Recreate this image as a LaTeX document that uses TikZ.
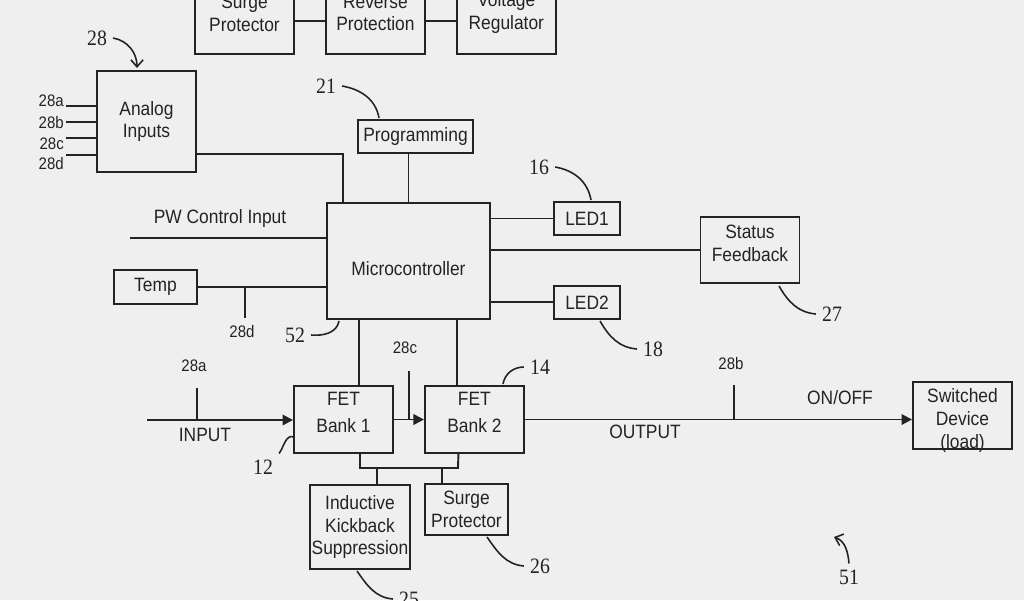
\documentclass[tikz,border=0pt]{standalone}
\usepackage{fontspec}
\setmainfont{Liberation Sans}[FakeStretch=0.9]
\newfontfamily\numfont{Liberation Serif}[FakeStretch=0.9]
\usetikzlibrary{arrows.meta, positioning}
\definecolor{paper}{RGB}{239,239,239}
\definecolor{ink}{RGB}{35,35,35}
\newcommand{\boxtext}[2][0pt]{\raisebox{#1}[0pt][0pt]{\begin{tabular}{@{}c@{}}#2\end{tabular}}}

\begin{document}
\begin{tikzpicture}[
    x=0.02cm, y=-0.02cm,
    every node/.style={font=\fontsize{11}{13}\selectfont, text=ink},
    box/.style={rectangle, draw=ink, line width=1.1pt, align=center,
                minimum width=1.98cm, minimum height=1.34cm, inner sep=1pt},
    sbox/.style={box, minimum height=0.66cm},
    wire/.style={draw=ink, line width=1.1pt},
    arr/.style={wire, -{Triangle[length=6pt, width=6pt]}},
    lead/.style={draw=ink, line width=0.9pt},
    ptr/.style={lead, -{Straight Barb[length=4pt, width=7pt]}},
    num/.style={font=\numfont\fontsize{12.5}{14}\selectfont},
    tag/.style={font=\fontsize{9.5}{11}\selectfont}
  ]
  \fill[paper] (0,0) rectangle (1024,600);
  \useasboundingbox (0,0) rectangle (1024,600);
  \clip (0,0) rectangle (1024,600);

  \node[box, minimum height=1.64cm] (surge) at (244.5,13) {Surge\\Protector};
  \node[box, minimum height=1.64cm, right=0.6cm of surge] (rev) {Reverse\\Protection};
  \node[box, minimum height=1.64cm, right=0.6cm of rev] (volt) {Voltage\\Regulator};

  \node[box, minimum height=2.02cm] (analog) at (146.5,121.5) {Analog\\Inputs};
  \node[sbox, minimum width=2.3cm] (prog) at (415.5,136.5) {Programming};
  \node[box, minimum width=3.26cm, minimum height=2.32cm] (mcu) at (408.5,261)
        {\raisebox{-8pt}[0pt][0pt]{Microcontroller}};
  \node[sbox, minimum width=1.66cm, minimum height=0.68cm] (temp) at (155.5,287) {Temp};
  \node[sbox, minimum width=1.32cm] (led1) at (587,218.5) {LED1};
  \node[sbox, minimum width=1.32cm, below=0.98cm of led1] (led2) {LED2};
  \node[box, minimum height=1.32cm] (status) at (750,250) {\boxtext{Status\\Feedback}};

  \node[box] (fet1) at (343.5,419.5) {\boxtext{FET\\[2.5pt]Bank 1}};
  \node[box, right=0.6cm of fet1] (fet2) {\boxtext{FET\\[2.5pt]Bank 2}};
  \node[box, minimum height=1.68cm] (kick) at (360,527)
        {Inductive\\Kickback\\Suppression};
  \node[box, minimum width=1.66cm, minimum height=1.02cm] (surgeb) at (466.5,509.5)
        {Surge\\Protector};
  \node[box] (load) at (962.5,415.5) {\boxtext[-6pt]{Switched\\Device\\(load)}};

  \node[tag, anchor=east] (in28a) at (70,101) {28a};
  \node[tag, anchor=east] (in28b) at (70,123) {28b};
  \node[tag, anchor=east] (in28c) at (70,144) {28c};
  \node[tag, anchor=east] (in28d) at (70,164) {28d};
  \coordinate (pin28a) at (66,106);
  \coordinate (pin28b) at (66,122);
  \coordinate (pin28c) at (66,138);
  \coordinate (pin28d) at (66,155);

  \node (pwlbl) at (220,218) {PW Control Input};
  \coordinate (pw) at (130,238);
  \node[tag] (l28d) at (242,332) {28d};
  \coordinate (t28d) at (245,318);
  \node[tag] (l28a) at (194,366) {28a};
  \coordinate (t28a) at (197,388);
  \node (linput) at (205,435) {INPUT};
  \coordinate (in) at (147,420);
  \node[tag] (l28c) at (405,348) {28c};
  \coordinate (t28c) at (409,371);
  \node[tag] (l28b) at (731,364) {28b};
  \coordinate (t28b) at (734,385);
  \node (loutput) at (645,432) {OUTPUT};
  \node (lonoff) at (840,398) {ON/OFF};
  \coordinate (busl) at (360,468);
  \coordinate (busr) at (458,468);

  \node[num] (n28) at (97,38) {28};
  \node[num] (n21) at (326,86) {21};
  \node[num] (n16) at (539,167) {16};
  \node[num] (n27) at (832,314) {27};
  \node[num] (n18) at (653,349) {18};
  \node[num] (n52) at (295,335) {52};
  \node[num] (n12) at (263,467) {12};
  \node[num] (n14) at (540,367) {14};
  \node[num] (n26) at (540,566) {26};
  \node[num] (n25) at (409,599) {25};
  \node[num] (n51) at (849,577) {51};
  \coordinate (p28) at (137,68);
  \coordinate (p21) at (379,118);
  \coordinate (p16) at (591,200);
  \coordinate (p27) at (779,286);
  \coordinate (p18) at (600,321);
  \coordinate (p52) at (339,321);
  \coordinate (p12) at (294,437);
  \coordinate (p14) at (503,384);
  \coordinate (p26) at (487,537);
  \coordinate (p25) at (357,571);
  \coordinate (p51) at (834,537);

  \draw[wire] ([yshift=-0.16cm]surge.east) -- ([yshift=-0.16cm]rev.west);
  \draw[wire] ([yshift=-0.16cm]rev.east) -- ([yshift=-0.16cm]volt.west);

  \draw[wire] (pin28a) -- (pin28a -| analog.west);
  \draw[wire] (pin28b) -- (pin28b -| analog.west);
  \draw[wire] (pin28c) -- (pin28c -| analog.west);
  \draw[wire] (pin28d) -- (pin28d -| analog.west);
  \draw[wire] ([yshift=-0.65cm]analog.east) -| ([xshift=-1.31cm]mcu.north);
  \draw[wire] (prog.south -| mcu.north) -- (mcu.north);
  \draw[wire] (pw) -- (pw -| mcu.west);
  \draw[wire] (temp) -- (temp -| mcu.west);
  \draw[wire] (t28d) -- (t28d |- temp.east);
  \draw[wire] (led1) -- (led1 -| mcu.east);
  \draw[wire] (status) -- (status -| mcu.east);
  \draw[wire] (led2) -- (led2 -| mcu.east);
  \draw[wire] ([xshift=0.31cm]fet1.north) -- ([xshift=0.31cm]fet1.north |- mcu.south);
  \draw[wire] ([xshift=-0.34cm]fet2.north) -- ([xshift=-0.34cm]fet2.north |- mcu.south);

  \draw[arr] (in) -- (in -| fet1.west);
  \draw[wire] (t28a) -- (t28a |- in);
  \draw[arr] (fet1.east) -- (fet1.east -| fet2.west);
  \draw[wire] (t28c) -- (t28c |- fet1.east);
  \draw[arr] (fet2.east) -- (fet2.east -| load.west);
  \draw[wire] (t28b) -- (t28b |- fet2.east);

  \draw[wire] ([xshift=0.33cm]fet1.south) -- (busl) -- (busr) -- ([xshift=-0.32cm]fet2.south);
  \draw[wire] ([xshift=0.34cm]kick.north) -- ([xshift=0.34cm]kick.north |- busl);
  \draw[wire] ([xshift=-0.49cm]surgeb.north) -- ([xshift=-0.49cm]surgeb.north |- busl);

  \draw[ptr] (n28.east) to[out=-10, in=90] (p28);
  \draw[lead] (n21.east) to[out=-10, in=100] (p21);
  \draw[lead] (n16.east) to[out=-10, in=100] (p16);
  \draw[lead] (p27) to[out=-60, in=175] (n27.west);
  \draw[lead] (p18) to[out=-60, in=175] (n18.west);
  \draw[lead] (n52.east) to[out=-5, in=-100] (p52);
  \draw[lead] (n12.north east) to[out=55, in=160] (p12);
  \draw[lead] (p14) to[out=80, in=180] (n14.west);
  \draw[lead] (p26) to[out=-55, in=175] (n26.west);
  \draw[lead] (p25) to[out=-55, in=175] (n25.west);
  \draw[ptr] (n51.north) to[out=95, in=-20] (p51);
\end{tikzpicture}
\end{document}
